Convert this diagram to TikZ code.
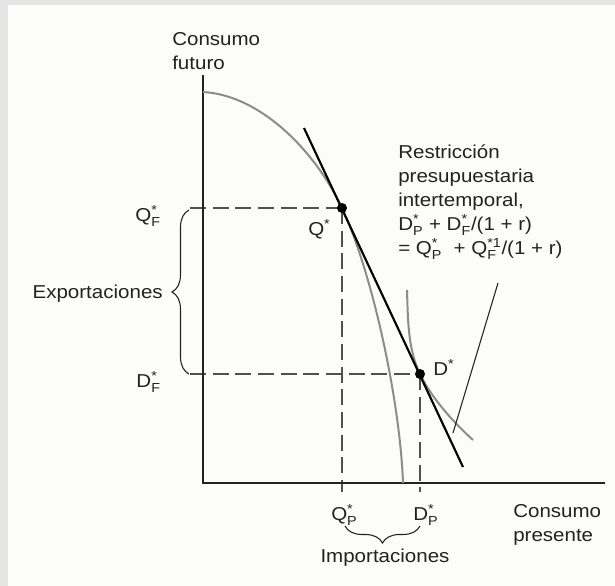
\documentclass[tikz,border=0pt]{standalone}
\usepackage{amsmath}
\usepackage{fontspec}
\setmainfont[FakeStretch=1.1]{Liberation Sans}
\usetikzlibrary{decorations.pathreplacing}
\definecolor{framegray}{RGB}{228,228,228}
\definecolor{papercol}{RGB}{252,252,250}
\definecolor{curvegray}{RGB}{140,140,140}
\definecolor{dashgray}{RGB}{80,80,80}
\definecolor{inkcol}{RGB}{34,34,34}
\newcommand{\starsub}[2]{$^{\text{#1}}_{\text{#2}}$}

\begin{document}
\begin{tikzpicture}[x=0.75pt,y=-0.75pt,
    lbl/.style={font=\fontsize{14}{18}\selectfont,inner sep=0pt,text=inkcol},
    axisline/.style={line width=1.5pt,inkcol},
    curve/.style={line width=1.5pt,curvegray},
    dashline/.style={line width=1pt,dashgray,dash pattern=on 12pt off 5pt},
    brace/.style={decorate,decoration={brace,amplitude=12.75pt},line width=0.8pt,inkcol},
    dot/.style={fill=black}]
  \useasboundingbox (0,0) rectangle (615,586);
  \fill[framegray] (0,0) rectangle (615,586);
  \fill[papercol] (8,5) rectangle (615,586);
  % points
  \coordinate (O) at (203,483);
  \coordinate (Qs) at (342,208);
  \coordinate (Ds) at (420,374);
  % guide lines
  \coordinate (qfl) at (190,208);
  \coordinate (dfl) at (190,374);
  \coordinate (qpb) at (342,492);
  \coordinate (dpb) at (420,492);
  \draw[dashline] (qfl) -- (Qs);
  \draw[dashline] (dfl) -- (Ds);
  \draw[dashline] (Qs) -- (qpb);
  \draw[dashline] (Ds) -- (dpb);
  % axes
  \draw[axisline] (203,75) -- (O) -- (605,483);
  % production frontier and indifference curve
  \draw[curve] (203,92) .. controls (260,95) and (315,150.5) .. (Qs)
    .. controls (372,272) and (400,400) .. (403,483);
  \draw[curve] (407,290) .. controls (408,322) and (408,349) .. (Ds)
    .. controls (431,397) and (452,421) .. (473,440);
  % budget line
  \draw[line width=1.6pt,black] (304,128) -- (463,467);
  \fill[dot] (Qs) circle (5);
  \fill[dot] (Ds) circle (5);
  % braces
  \draw[brace] (189,374) -- (189,210);
  \draw[brace] (420,526) -- (345,526);
  % labels
  \node[lbl,anchor=north west,align=left] (yaxis) at (172,32) {Consumo\\futuro};
  \node[lbl,anchor=north west,align=left] (xaxis) at (513,504) {Consumo\\presente};
  \node[lbl,anchor=base east] (qf) at (161,221) {Q\starsub{*}{F}};
  \node[lbl,anchor=base east] (df) at (161,387) {D\starsub{*}{F}};
  \node[lbl,anchor=base west] (qp) at (331,520) {Q\starsub{*}{P}};
  \node[lbl,anchor=base west] (dp) at (413,520) {D\starsub{*}{P}};
  \node[lbl,anchor=base west] (qlab) at (308,235) {Q$^{\text{*}}$};
  \node[lbl,anchor=base west] (dlab) at (433,375) {D$^{\text{*}}$};
  \node[lbl,anchor=base east] (exp) at (163,298) {Exportaciones};
  \node[lbl,anchor=base] (imp) at (385,562) {Importaciones};
  \node[lbl,anchor=north west,align=left] (note) at (398,144)
    {Restricción\\presupuestaria\\intertemporal,\\
     D\starsub{*}{P} + D\starsub{*}{F}/(1 + r)\\
     = Q\starsub{*}{P} \ + Q\starsub{*1}{F}/(1 + r)};
  \coordinate (ptop) at (498,283);
  \coordinate (pend) at (453,433);
  \draw[line width=0.8pt,inkcol] (ptop) -- (pend);
\end{tikzpicture}
\end{document}
